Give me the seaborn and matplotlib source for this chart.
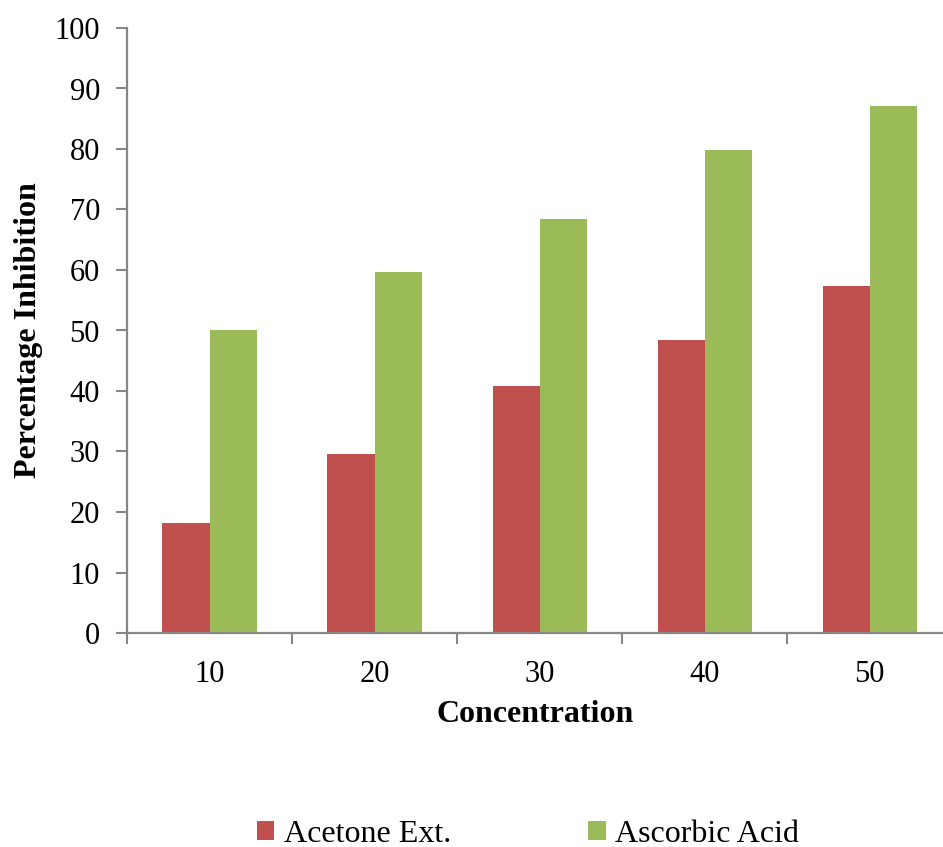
import matplotlib
matplotlib.use("Agg")
import matplotlib.pyplot as plt
import seaborn as sns
import pandas as pd

concentrations = ["10", "20", "30", "40", "50"]
acetone_ext = [18.2, 29.6, 40.8, 48.4, 57.4]
ascorbic_acid = [50.1, 59.6, 68.5, 79.9, 87.1]
series_names = ["Acetone Ext.", "Ascorbic Acid"]
y_ticks = [0, 10, 20, 30, 40, 50, 60, 70, 80, 90, 100]

df = pd.DataFrame({
    "Concentration": concentrations * 2,
    "Value": acetone_ext + ascorbic_acid,
    "Series": [series_names[0]] * len(concentrations) + [series_names[1]] * len(concentrations),
})

sns.set_theme(style="white")
plt.rcParams["font.family"] = ["Liberation Serif", "DejaVu Serif"]
plt.rcParams["text.color"] = "black"
plt.rcParams["axes.labelcolor"] = "black"

fig = plt.figure(figsize=(9.43, 8.47), dpi=100)
ax = fig.add_axes([127 / 943, (847 - 633) / 847, (943 - 127) / 943, 605 / 847])

palette = {series_names[0]: "#C0504D", series_names[1]: "#9BBB59"}
sns.barplot(data=df, x="Concentration", y="Value", hue="Series", order=concentrations,
            hue_order=series_names, palette=palette, width=0.57, ax=ax,
            edgecolor="none", saturation=1, legend=True)

ax.set_yticks(y_ticks)
ax.set_yticklabels([str(t) for t in y_ticks])

# category labels at centers, tick marks at boundaries
ax.set_xticks(range(len(concentrations)))
ax.set_xticklabels(concentrations)
ax.set_xticks([i - 0.5 for i in range(len(concentrations) + 1)], minor=True)
ax.set_ylim(0, 100)
ax.set_xlim(-0.5, 4.445)
ax.tick_params(axis="x", which="major", length=0, pad=19.5, labelsize=22, labelcolor="black")
ax.tick_params(axis="x", which="minor", length=8, width=1.5, color="#868686", direction="out", bottom=True)
ax.tick_params(axis="y", which="major", length=8, width=1.5, color="#868686", direction="out",
               left=True, pad=11.5, labelsize=22, labelcolor="black")

for s in ["top", "right"]:
    ax.spines[s].set_visible(False)
for s in ["left", "bottom"]:
    ax.spines[s].set_color("#868686")
    ax.spines[s].set_linewidth(1.6)

ax.set_xlabel("Concentration", fontsize=23, fontweight="bold", labelpad=8, color="black")
ax.set_ylabel("Percentage Inhibition", fontsize=23, fontweight="bold", labelpad=8, color="black")

handles, labels = ax.get_legend_handles_labels()
ax.legend_.remove()
fig.legend(handles, labels, loc="center", bbox_to_anchor=(528 / 943, 1 - 834 / 847), ncol=2,
           frameon=False, fontsize=23, handlelength=0.55, handleheight=0.55,
           handletextpad=0.3, columnspacing=4.3, borderpad=0, labelcolor="black")

fig.savefig("out.png", dpi=100)
